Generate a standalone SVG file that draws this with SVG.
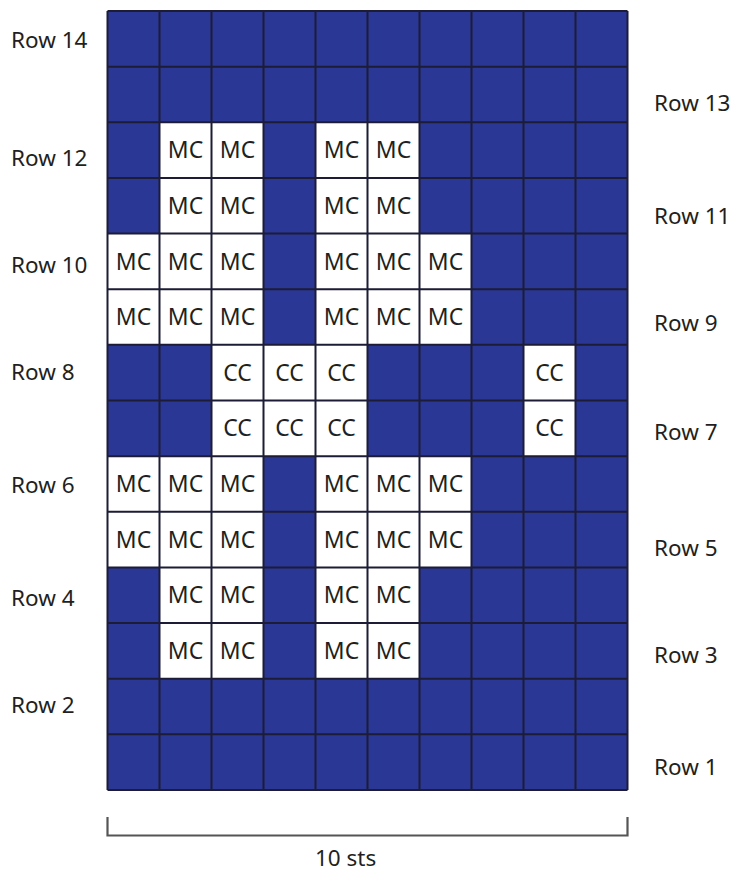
<svg xmlns="http://www.w3.org/2000/svg" width="739" height="874" viewBox="0 0 739 874">
<style>
.bg{fill:#ffffff}
.blue{fill:#2a3794}
.w{fill:#ffffff}
.gl{stroke:#1c1c36;stroke-width:2;fill:none}
.ct{font-family:"Noto Sans","Open Sans",sans-serif;font-size:23px;fill:#231f20;text-anchor:middle}
.lbl{font-family:"Noto Sans","Open Sans",sans-serif;font-size:22.5px;fill:#231f20}
.br{stroke:#555555;stroke-width:2.2;fill:none}
</style>
<rect class="bg" x="0" y="0" width="739" height="874"/>
<g id="grid">
<rect class="blue" x="107.5" y="11" width="520" height="779"/>
<g id="white-cells">
<!-- Row 12 -->
<rect class="w" x="159.5" y="122.29" width="52" height="55.64"/>
<rect class="w" x="211.5" y="122.29" width="52" height="55.64"/>
<rect class="w" x="315.5" y="122.29" width="52" height="55.64"/>
<rect class="w" x="367.5" y="122.29" width="52" height="55.64"/>
<!-- Row 11 -->
<rect class="w" x="159.5" y="177.93" width="52" height="55.64"/>
<rect class="w" x="211.5" y="177.93" width="52" height="55.64"/>
<rect class="w" x="315.5" y="177.93" width="52" height="55.64"/>
<rect class="w" x="367.5" y="177.93" width="52" height="55.64"/>
<!-- Row 10 -->
<rect class="w" x="107.5" y="233.57" width="156" height="55.64"/>
<rect class="w" x="315.5" y="233.57" width="156" height="55.64"/>
<!-- Row 9 -->
<rect class="w" x="107.5" y="289.21" width="156" height="55.64"/>
<rect class="w" x="315.5" y="289.21" width="156" height="55.64"/>
<!-- Row 8 -->
<rect class="w" x="211.5" y="344.86" width="156" height="55.64"/>
<rect class="w" x="523.5" y="344.86" width="52" height="55.64"/>
<!-- Row 7 -->
<rect class="w" x="211.5" y="400.5" width="156" height="55.64"/>
<rect class="w" x="523.5" y="400.5" width="52" height="55.64"/>
<!-- Row 6 -->
<rect class="w" x="107.5" y="456.14" width="156" height="55.64"/>
<rect class="w" x="315.5" y="456.14" width="156" height="55.64"/>
<!-- Row 5 -->
<rect class="w" x="107.5" y="511.79" width="156" height="55.64"/>
<rect class="w" x="315.5" y="511.79" width="156" height="55.64"/>
<!-- Row 4 -->
<rect class="w" x="159.5" y="567.43" width="104" height="55.64"/>
<rect class="w" x="315.5" y="567.43" width="104" height="55.64"/>
<!-- Row 3 -->
<rect class="w" x="159.5" y="623.07" width="104" height="55.64"/>
<rect class="w" x="315.5" y="623.07" width="104" height="55.64"/>
</g>
<g id="grid-lines" class="gl">
<path d="M107.5 11V790M159.5 11V790M211.5 11V790M263.5 11V790M315.5 11V790M367.5 11V790M419.5 11V790M471.5 11V790M523.5 11V790M575.5 11V790M627.5 11V790"/>
<path d="M107.5 11H627.5M107.5 66.64H627.5M107.5 122.29H627.5M107.5 177.93H627.5M107.5 233.57H627.5M107.5 289.21H627.5M107.5 344.86H627.5M107.5 400.5H627.5M107.5 456.14H627.5M107.5 511.79H627.5M107.5 567.43H627.5M107.5 623.07H627.5M107.5 678.71H627.5M107.5 734.36H627.5M107.5 790H627.5"/>
</g>
<g id="cell-text">
<!-- Row 12 -->
<text class="ct" x="185.5" y="158.2">MC</text><text class="ct" x="237.5" y="158.2">MC</text><text class="ct" x="341.5" y="158.2">MC</text><text class="ct" x="393.5" y="158.2">MC</text>
<!-- Row 11 -->
<text class="ct" x="185.5" y="213.9">MC</text><text class="ct" x="237.5" y="213.9">MC</text><text class="ct" x="341.5" y="213.9">MC</text><text class="ct" x="393.5" y="213.9">MC</text>
<!-- Row 10 -->
<text class="ct" x="133.5" y="269.5">MC</text><text class="ct" x="185.5" y="269.5">MC</text><text class="ct" x="237.5" y="269.5">MC</text><text class="ct" x="341.5" y="269.5">MC</text><text class="ct" x="393.5" y="269.5">MC</text><text class="ct" x="445.5" y="269.5">MC</text>
<!-- Row 9 -->
<text class="ct" x="133.5" y="325.1">MC</text><text class="ct" x="185.5" y="325.1">MC</text><text class="ct" x="237.5" y="325.1">MC</text><text class="ct" x="341.5" y="325.1">MC</text><text class="ct" x="393.5" y="325.1">MC</text><text class="ct" x="445.5" y="325.1">MC</text>
<!-- Row 8 -->
<text class="ct" x="237.5" y="380.8">CC</text><text class="ct" x="289.5" y="380.8">CC</text><text class="ct" x="341.5" y="380.8">CC</text><text class="ct" x="549.5" y="380.8">CC</text>
<!-- Row 7 -->
<text class="ct" x="237.5" y="436.4">CC</text><text class="ct" x="289.5" y="436.4">CC</text><text class="ct" x="341.5" y="436.4">CC</text><text class="ct" x="549.5" y="436.4">CC</text>
<!-- Row 6 -->
<text class="ct" x="133.5" y="492.1">MC</text><text class="ct" x="185.5" y="492.1">MC</text><text class="ct" x="237.5" y="492.1">MC</text><text class="ct" x="341.5" y="492.1">MC</text><text class="ct" x="393.5" y="492.1">MC</text><text class="ct" x="445.5" y="492.1">MC</text>
<!-- Row 5 -->
<text class="ct" x="133.5" y="547.7">MC</text><text class="ct" x="185.5" y="547.7">MC</text><text class="ct" x="237.5" y="547.7">MC</text><text class="ct" x="341.5" y="547.7">MC</text><text class="ct" x="393.5" y="547.7">MC</text><text class="ct" x="445.5" y="547.7">MC</text>
<!-- Row 4 -->
<text class="ct" x="185.5" y="603.3">MC</text><text class="ct" x="237.5" y="603.3">MC</text><text class="ct" x="341.5" y="603.3">MC</text><text class="ct" x="393.5" y="603.3">MC</text>
<!-- Row 3 -->
<text class="ct" x="185.5" y="659">MC</text><text class="ct" x="237.5" y="659">MC</text><text class="ct" x="341.5" y="659">MC</text><text class="ct" x="393.5" y="659">MC</text>
</g>
</g>
<g id="row-labels-left">
<text class="lbl" x="11" y="48">Row 14</text>
<text class="lbl" x="11" y="166">Row 12</text>
<text class="lbl" x="11" y="273">Row 10</text>
<text class="lbl" x="11" y="380">Row 8</text>
<text class="lbl" x="11" y="493">Row 6</text>
<text class="lbl" x="11" y="606">Row 4</text>
<text class="lbl" x="11" y="713">Row 2</text>
</g>
<g id="row-labels-right">
<text class="lbl" x="654" y="111">Row 13</text>
<text class="lbl" x="654" y="224">Row 11</text>
<text class="lbl" x="654" y="331">Row 9</text>
<text class="lbl" x="654" y="440">Row 7</text>
<text class="lbl" x="654" y="556">Row 5</text>
<text class="lbl" x="654" y="663">Row 3</text>
<text class="lbl" x="654" y="775">Row 1</text>
</g>
<g id="width-bracket">
<path class="br" d="M107.5 817V835.5H627.5V817"/>
<text class="lbl" x="315" y="866">10 sts</text>
</g>
</svg>
